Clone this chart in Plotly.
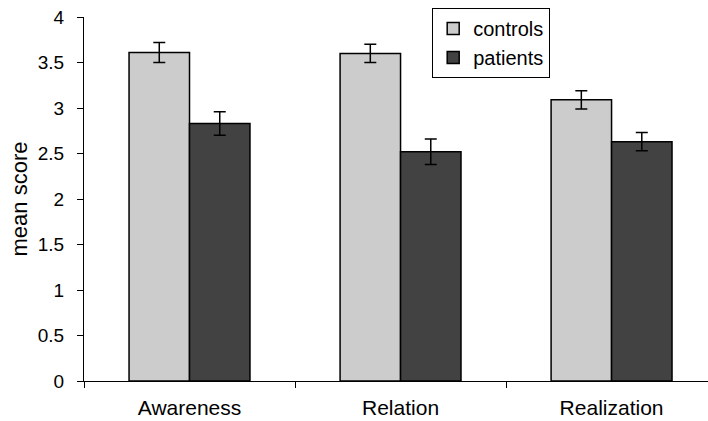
import plotly.graph_objects as go

categories = ["Awareness", "Relation", "Realization"]
controls = [3.61, 3.60, 3.09]
controls_err = [0.11, 0.10, 0.10]
patients = [2.83, 2.52, 2.63]
patients_err = [0.13, 0.14, 0.10]

FONT = "Liberation Sans, Arial, sans-serif"

fig = go.Figure()
fig.add_trace(go.Bar(
    name="controls", x=categories, y=controls,
    marker=dict(color="#cccccc", line=dict(color="#000000", width=1.5)),
    error_y=dict(type="data", array=controls_err, color="#000000", thickness=1.5, width=6),
))
fig.add_trace(go.Bar(
    name="patients", x=categories, y=patients,
    marker=dict(color="#424242", line=dict(color="#000000", width=1.5)),
    error_y=dict(type="data", array=patients_err, color="#000000", thickness=1.5, width=6),
))

fig.update_layout(
    width=708, height=421,
    margin=dict(l=84, r=0, t=17, b=40, autoexpand=False),
    paper_bgcolor="white", plot_bgcolor="white",
    barmode="group", bargap=0.427, bargroupgap=0,
    font=dict(family=FONT, size=20, color="#000000"),
    showlegend=True,
    legend=dict(
        x=0.558, y=1.025, xanchor="left", yanchor="top",
        bordercolor="#000000", borderwidth=1, bgcolor="white",
        font=dict(family=FONT, size=20, color="#000000"),
        itemwidth=30, tracegroupgap=0,
    ),
    xaxis=dict(
        range=[-0.5, 2.457], showline=True, linecolor="#000000", linewidth=1,
        ticks="outside", tickson="boundaries", ticklen=6, tickcolor="#000000",
        showgrid=False, zeroline=False, ticklabelstandoff=8, automargin=False,
        tickfont=dict(family=FONT, size=21, color="#000000"),
    ),
    yaxis=dict(
        range=[0, 4], dtick=0.5, tick0=0, showline=True, linecolor="#000000", linewidth=1,
        ticks="outside", ticklen=6, tickcolor="#000000", showgrid=False, zeroline=False,
        tickfont=dict(family=FONT, size=19, color="#000000"), ticklabelstandoff=9,
        automargin=False,
        title=dict(text="mean score", font=dict(family=FONT, size=22, color="#000000"), standoff=4),
    ),
)

fig.write_html(
    "out.html",
    config={"displayModeBar": False},
    post_script="document.body.style.margin='0';document.body.style.overflow='hidden';",
)
